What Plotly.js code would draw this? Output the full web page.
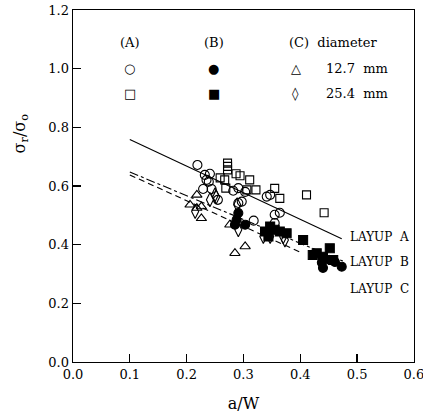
<!DOCTYPE html>
<html>
<head>
<meta charset="utf-8">
<script src="https://cdn.plot.ly/plotly-3.0.1.min.js"></script>
<style>html,body{margin:0;padding:0;background:#fff;}</style>
</head>
<body>
<div id="chart" style="width:423px;height:413px;"></div>
<script>
// Layup A, 12.7 mm (open circles)
const aCircX = [0.219,0.232,0.241,0.235,0.239,0.229,0.244,0.255,0.282,0.291,0.303,0.291,0.297,0.341,0.347,0.318,0.355,0.364,0.355];
const aCircY = [0.672,0.638,0.642,0.621,0.615,0.590,0.590,0.553,0.584,0.593,0.580,0.542,0.547,0.564,0.570,0.482,0.502,0.509,0.474];
// Layup A, 25.4 mm (open squares)
const aSqX = [0.272,0.272,0.272,0.287,0.294,0.259,0.267,0.311,0.269,0.306,0.322,0.355,0.364,0.411,0.442];
const aSqY = [0.678,0.667,0.655,0.642,0.635,0.628,0.621,0.621,0.593,0.587,0.587,0.592,0.558,0.570,0.509];
// Layup B, 12.7 mm (filled circles)
const bCircX = [0.291,0.288,0.285,0.303,0.438,0.452,0.473,0.440,0.461];
const bCircY = [0.508,0.485,0.468,0.468,0.339,0.348,0.325,0.321,0.341];
// Layup B, 25.4 mm (filled squares)
const bSqX = [0.338,0.347,0.364,0.376,0.344,0.355,0.405,0.429,0.452,0.440,0.458,0.422];
const bSqY = [0.445,0.462,0.445,0.439,0.428,0.451,0.416,0.371,0.388,0.359,0.348,0.365];
// Layup C, 12.7 mm (triangles)
const cTriX = [0.206,0.218,0.218,0.226,0.226,0.276,0.285,0.303];
const cTriY = [0.536,0.570,0.525,0.530,0.490,0.468,0.371,0.394];
// Layup C, 25.4 mm (diamonds)
const cDiaX = [0.215,0.250,0.241,0.252,0.289,0.291,0.335,0.347,0.373,0.370];
const cDiaY = [0.513,0.570,0.553,0.563,0.536,0.451,0.428,0.428,0.416,0.427];
// Fitted lines
const lineAX = [0.100,0.473], lineAY = [0.759,0.420];
const lineBX = [0.100,0.479], lineBY = [0.648,0.341];
const lineCX = [0.100,0.403], lineCY = [0.638,0.372];
// Labels
const layupLabels = ["LAYUP  A","LAYUP  B","LAYUP  C"];
const layupLabelY = [0.427,0.341,0.249];
const xTicks = [0.0,0.1,0.2,0.3,0.4,0.5,0.6];
const yTicks = [0.0,0.2,0.4,0.6,0.8,1.0,1.2];

const K = '#000';
function mk(x,y,sym,size){
  return {x:x,y:y,type:'scatter',mode:'markers',showlegend:false,
    marker:{symbol:sym,size:size,color:K,line:{color:K,width:1.1}}};
}
function ln(x,y,dash){
  return {x:x,y:y,type:'scatter',mode:'lines',showlegend:false,
    line:{color:K,width:1.1,dash:dash}};
}
const data = [
  ln(lineAX,lineAY,'solid'),
  ln(lineBX,lineBY,'dashdot'),
  ln(lineCX,lineCY,'6px,4px'),
  mk(aCircX,aCircY,'circle-open',9),
  mk(aSqX,aSqY,'square-open',8),
  mk(bCircX,bCircY,'circle',9),
  mk(bSqX,bSqY,'square',9),
  mk(cTriX,cTriY,'triangle-up-open',9),
  mk(cDiaX,cDiaY,'diamond-tall-open',10)
];

const F = 'DejaVu Serif, serif';
const ann = [];
layupLabels.forEach((t,i)=>ann.push({x:0.484,y:layupLabelY[i],xref:'x',yref:'y',text:t,showarrow:false,xanchor:'left',font:{family:F,size:12,color:K}}));
// legend-like header
const legText = [
  ['(A)',0.100,1.089,'center'],['(B)',0.248,1.089,'center'],['(C)  diameter',0.377,1.089,'left'],
  ['12.7  mm',0.442,1.000,'left'],['25.4  mm',0.442,0.915,'left']
];
legText.forEach(t=>ann.push({x:t[1],y:t[2],xref:'x',yref:'y',text:t[0],showarrow:false,xanchor:t[3],font:{family:F,size:13,color:K}}));
const legSym = [
  ['○',0.100,1.000],['□',0.100,0.915],['●',0.248,1.000],['■',0.248,0.915],['△',0.392,1.000],['◊',0.392,0.915]
];
legSym.forEach(s=>ann.push({x:s[1],y:s[2],xref:'x',yref:'y',text:s[0],showarrow:false,xanchor:'center',font:{family:'DejaVu Sans, sans-serif',size:13,color:K}}));
ann.push({x:-0.155,y:0.78,xref:'paper',yref:'y',xanchor:'center',yanchor:'middle',text:'σ<sub>r</sub>/σ<sub>o</sub>',textangle:-90,showarrow:false,font:{family:F,size:16,color:K}});

const axBase = {showgrid:false,zeroline:false,showline:true,linecolor:K,linewidth:1.4,mirror:true,
  ticks:'inside',ticklen:8,tickwidth:1.3,tickcolor:K,tickformat:'.1f',
  tickfont:{family:F,size:13,color:K}};
const layout = {
  width:423,height:413,
  margin:{l:73,r:9,t:10,b:51},
  paper_bgcolor:'#fff',plot_bgcolor:'#fff',
  xaxis:Object.assign({},axBase,{range:[0,0.6002],tickvals:xTicks,ticklabeloverflow:'allow',
    title:{text:'a/W',font:{family:F,size:16,color:K},standoff:17}}),
  yaxis:Object.assign({},axBase,{range:[0,1.2003],tickvals:yTicks}),
  annotations:ann,
  showlegend:false
};
Plotly.newPlot('chart',data,layout,{staticPlot:true,displayModeBar:false});
</script>
</body>
</html>
